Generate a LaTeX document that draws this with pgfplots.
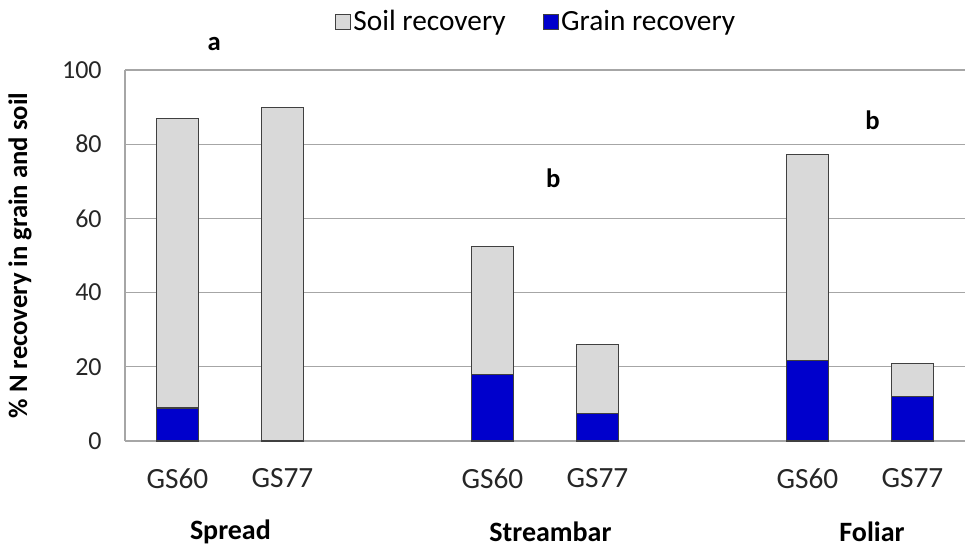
\documentclass[border=0pt]{standalone}
\usepackage{fontspec}
\setmainfont{Carlito}
\usepackage{pgfplots}
\pgfplotsset{compat=1.18}

\definecolor{soilgray}{HTML}{D9D9D9}
\definecolor{grainblue}{HTML}{0000CC}
\definecolor{edgegray}{HTML}{404040}
\definecolor{gridgray}{HTML}{A6A6A6}

\begin{document}
\begin{tikzpicture}
\useasboundingbox (0,0) rectangle (726pt,411pt);
\begin{axis}[
   at={(93.75pt,80.25pt)}, anchor=south west,
   scale only axis, width=630pt, height=278.25pt,
   ybar stacked, bar width=0.4,
   xmin=-0.5, xmax=7.5, ymin=0, ymax=100,
   xtick={0,1,3,4,6,7},
   xticklabels={GS60,GS77,GS60,GS77,GS60,GS77},
   ytick={0,20,...,100},
   major tick length=0pt,
   ymajorgrids, grid style={gridgray, line width=0.8pt},
   axis x line*=bottom, axis y line*=left,
   axis line style={gridgray, line width=0.8pt, -},
   /pgf/number format/assume math mode=true,
   tick label style={text=black!85},
   xticklabel style={font=\fontsize{22}{26}\selectfont, yshift=-17pt},
   yticklabel style={font=\fontsize{19.5}{23}\selectfont, xshift=-14pt},
   ylabel={\% N recovery in grain and soil},
   ylabel style={at={(axis description cs:-0.125,0.5)}, anchor=center,
                 font=\bfseries\fontsize{20}{24}\selectfont},
   clip=false,
   reverse legend,
   legend columns=2,
   legend style={at={(axis description cs:0.49,1.13)}, anchor=center,
                 draw=none, fill=none, font=\fontsize{22}{26}\selectfont,
                 /tikz/every even column/.append style={column sep=26pt}},
   legend image code/.code={\draw[#1, draw=edgegray, line width=0.6pt] (0pt,-5.5pt) rectangle (11pt,5.5pt);},
]
\addplot[fill=grainblue, draw=edgegray, line width=0.8pt]
  coordinates {(0,8.9) (1,0) (3,17.8) (4,7.3) (6,21.6) (7,11.9)};
\addlegendentry{Grain recovery}
\addplot[fill=soilgray, draw=edgegray, line width=0.8pt]
  coordinates {(0,78.1) (1,90) (3,34.7) (4,18.6) (6,55.5) (7,9.1)};
\addlegendentry{Soil recovery}

\node[font=\bfseries\fontsize{20}{24}\selectfont] at (axis cs:0.35,107) {a};
\node[font=\bfseries\fontsize{20}{24}\selectfont] at (axis cs:3.58,70.9) {b};
\node[font=\bfseries\fontsize{20}{24}\selectfont] at (axis cs:6.62,86.5) {b};

\node[font=\bfseries\fontsize{21}{25}\selectfont] at (axis description cs:0.1255,-0.245) {Spread};
\node[font=\bfseries\fontsize{21}{25}\selectfont] at (axis description cs:0.5065,-0.245) {Streambar};
\node[font=\bfseries\fontsize{21}{25}\selectfont] at (axis description cs:0.8893,-0.245) {Foliar};
\end{axis}
\end{tikzpicture}
\end{document}
